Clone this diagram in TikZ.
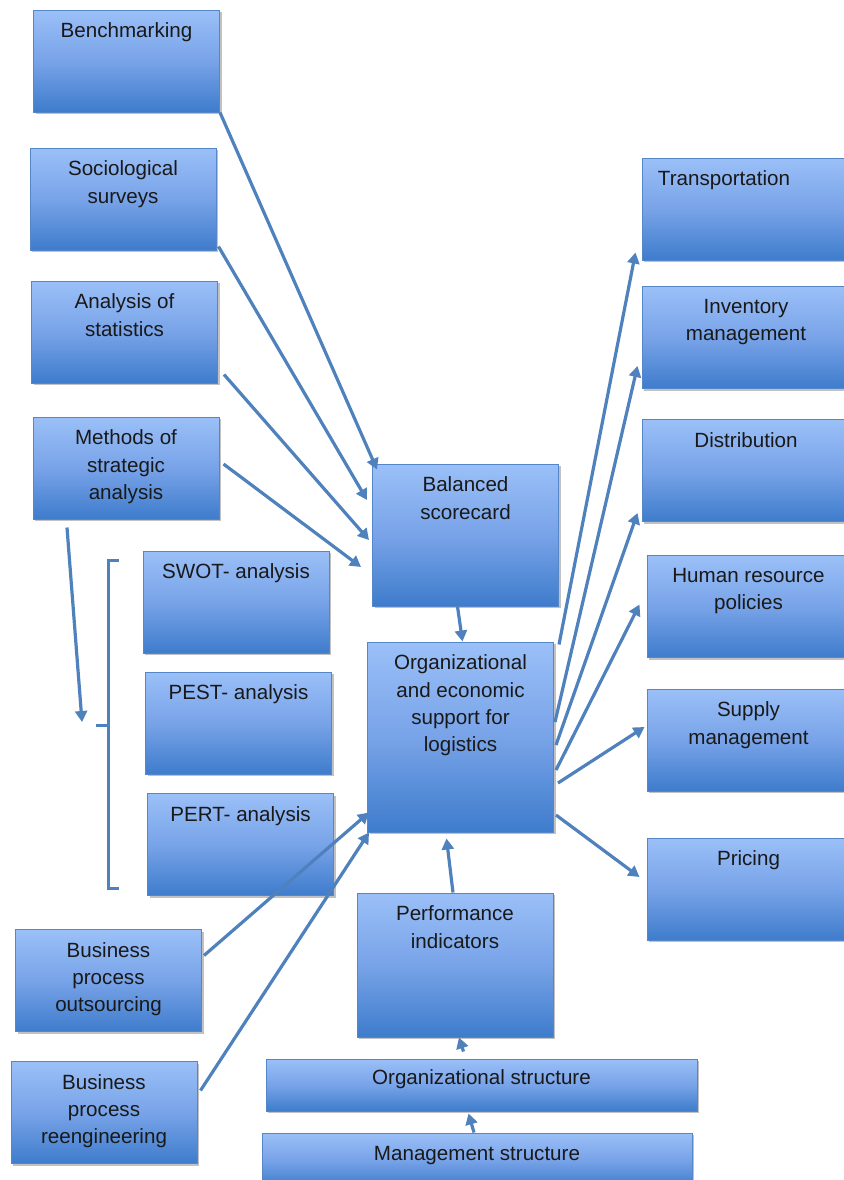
\documentclass[tikz,border=0pt]{standalone}
\usepackage{fontspec}
\setmainfont{Liberation Sans}
\usetikzlibrary{arrows.meta,shadows}

\definecolor{boxtop}{RGB}{155,192,248}
\definecolor{boxmid}{RGB}{120,163,232}
\definecolor{boxbot}{RGB}{62,124,204}
\definecolor{boxline}{RGB}{84,134,200}
\definecolor{arrowblue}{RGB}{79,129,189}

\tikzset{
  blockbox/.style={draw=boxline, line width=0.5pt, rectangle,
    top color=boxtop, bottom color=boxbot, middle color=boxmid,
    drop shadow={shadow xshift=1.2pt, shadow yshift=-1.2pt, opacity=0.35, fill=black!70},
    minimum width=93pt, minimum height=51pt, inner sep=0pt},
  blocklabel/.style={anchor=north, align=center, inner sep=3pt, yshift=-3.5pt,
    font=\fontsize{10.3}{13.6}\selectfont, text=black!90},
  link/.style={draw=arrowblue, line width=1.6pt,
    -{Triangle[length=5.5pt, width=6pt]}},
  brace/.style={draw=arrowblue, line width=1.5pt}
}

\begin{document}
\begin{tikzpicture}[x=0.5pt, y=-0.5pt]
    \useasboundingbox (0,0) rectangle (844,1180);

    % left column
    \node[blockbox, label={[blocklabel]north:Benchmarking}] (bench) at (126.5,61) {};
    \node[blockbox, label={[blocklabel]north:Sociological\\surveys}] (socio) at (123,199) {};
    \node[blockbox, label={[blocklabel]north:Analysis of\\statistics}] (stats) at (124.5,332) {};
    \node[blockbox, label={[blocklabel]north:Methods of\\strategic\\analysis}] (methods) at (126,468) {};
    \node[blockbox, label={[blocklabel]north:SWOT- analysis}] (swot) at (236,602) {};
    \node[blockbox, label={[blocklabel]north:PEST- analysis}] (pest) at (238.5,723) {};
    \node[blockbox, label={[blocklabel]north:PERT- analysis}] (pert) at (240.5,844.5) {};
    \node[blockbox, label={[blocklabel]north:Business\\process\\outsourcing}] (outsrc) at (108.5,980.5) {};
    \node[blockbox, label={[blocklabel]north:Business\\process\\reengineering}] (reeng) at (104,1112.5) {};

    % middle column
    \node[blockbox, minimum height=71pt, label={[blocklabel]north:Balanced\\scorecard}] (bsc) at (465.5,535) {};
    \node[blockbox, minimum height=95pt, label={[blocklabel]north:Organizational\\and economic\\support for\\logistics}] (oes) at (460.5,737) {};
    \node[blockbox, minimum width=98pt, minimum height=72pt, label={[blocklabel]north:Performance\\indicators}] (perf) at (455,965) {};
    \node[blockbox, minimum width=215.5pt, minimum height=26pt, label={[blocklabel, yshift=1pt]north:Organizational structure}] (orgstr) at (481.5,1085) {};
    \node[blockbox, minimum width=215pt, minimum height=27pt, label={[blocklabel, yshift=0pt]north:Management structure}] (mgmt) at (477,1160) {};

    % right column
    \node[blockbox, minimum width=104pt, label={[blocklabel, xshift=-11pt]north:Transportation}] (transp) at (746,209) {};
    \node[blockbox, minimum width=104pt, label={[blocklabel]north:Inventory\\management}] (invent) at (746,337.5) {};
    \node[blockbox, minimum width=104pt, label={[blocklabel]north:Distribution}] (distr) at (746,470.5) {};
    \node[blockbox, minimum width=101.5pt, label={[blocklabel]north:Human resource\\policies}] (hr) at (748.5,606.5) {};
    \node[blockbox, minimum width=101.5pt, label={[blocklabel]north:Supply\\management}] (supply) at (748.5,740) {};
    \node[blockbox, minimum width=101.5pt, label={[blocklabel]north:Pricing}] (pricing) at (748.5,889) {};

    % bracket round the three analyses
    \draw[brace] (119,560) -- (108,560) -- (108,888) -- (119,888);
    \draw[brace] (96,725) -- (108,725);
    \coordinate (brktip) at (82,722);

    % inputs to the balanced scorecard
    \draw[link] (bench.south east) -- ([xshift=2.5pt,yshift=-3pt]bsc.north west);
    \draw[link] ([xshift=1pt,yshift=2pt]socio.south east) -- ([xshift=-2.5pt,yshift=17.5pt]bsc.west);
    \draw[link] ([xshift=3pt,yshift=4.5pt]stats.south east) -- ([xshift=-1.5pt,yshift=-2.5pt]bsc.west);
    \draw[link] ([xshift=2pt,yshift=2pt]methods.east) -- ([xshift=-5.5pt,yshift=-16pt]bsc.west);
    \draw[link] ([xshift=-29.5pt,yshift=-4pt]methods.south) -- (brktip);

    \draw[link] ([xshift=-4pt]bsc.south) -- ([xshift=1pt]oes.north);

    % outputs of the support block
    \draw[link] ([xshift=2.5pt,yshift=-1.5pt]oes.north east) -- ([xshift=-3pt,yshift=4pt]transp.south west);
    \draw[link] ([xshift=0.5pt,yshift=7.5pt]oes.east) -- ([xshift=-2pt,yshift=11.5pt]invent.south west);
    \draw[link] ([xshift=1pt,yshift=-4pt]oes.east) -- ([xshift=-2pt,yshift=4.5pt]distr.south west);
    \draw[link] ([xshift=1pt,yshift=-16.5pt]oes.east) -- ([xshift=-3.5pt,yshift=1pt]hr.west);
    \draw[link] ([xshift=2pt,yshift=-23pt]oes.east) -- ([xshift=-1pt,yshift=6.5pt]supply.west);
    \draw[link] ([xshift=1pt,yshift=-39pt]oes.east) -- ([xshift=-3.5pt,yshift=6pt]pricing.west);

    % inputs from below
    \draw[link] ([xshift=-1pt]perf.north) -- ([xshift=-7pt,yshift=-3pt]oes.south);
    \draw[link] ([xshift=1pt,yshift=12.5pt]outsrc.east) -- ([xshift=1pt,yshift=10pt]oes.south west);
    \draw[link] ([xshift=1.5pt,yshift=11pt]reeng.east) -- ([xshift=1pt]oes.south west);
    \draw[link] ([xshift=-9pt,yshift=3.5pt]orgstr.north) -- ([xshift=2pt]perf.south);
    \draw[link] ([xshift=-1.5pt]mgmt.north) -- ([xshift=-6.5pt,yshift=-1pt]orgstr.south);
\end{tikzpicture}
\end{document}
